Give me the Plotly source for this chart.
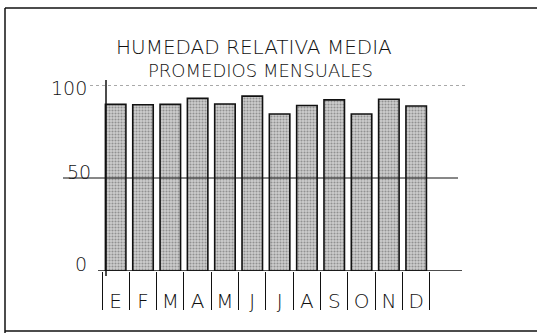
import plotly.graph_objects as go

# ── datos ──
meses = ["E", "F", "M", "A", "M", "J", "J", "A", "S", "O", "N", "D"]
humedad = [89.6, 89.4, 89.6, 92.8, 89.8, 94.0, 84.4, 89.0, 92.0, 84.4, 92.3, 88.7]
y_ticks = [0, 50, 100]

FONT = "DejaVu Sans"
INK = "#111111"

# geometría del área de trazado (px)
L, R, T, B = 102, 464, 85, 271
W, H = R - L, B - T


def px(x):
    return (x - L) / W


def py(y):
    return (B - y) / H


fig = go.Figure()
fig.add_trace(go.Bar(
    x=list(range(len(meses))),
    y=humedad,
    width=0.75,
    marker=dict(
        color="#bdbdbd",
        line=dict(color=INK, width=1.6),
        pattern=dict(shape=".", fgcolor="#555555", bgcolor="#cdcdcd",
                     size=3, solidity=0.4),
    ),
    hoverinfo="skip",
))

shapes = [
    # marco
    dict(type="line", xref="paper", yref="paper", x0=px(5), x1=px(537), y0=py(8), y1=py(8),
         line=dict(color=INK, width=1.5)),
    dict(type="line", xref="paper", yref="paper", x0=px(5), x1=px(5), y0=py(8), y1=py(333),
         line=dict(color=INK, width=1.5)),
    dict(type="line", xref="paper", yref="paper", x0=px(5), x1=px(537), y0=py(331), y1=py(331),
         line=dict(color=INK, width=1.5)),
    # eje vertical
    dict(type="line", xref="paper", yref="paper", x0=px(106), x1=px(106), y0=py(80), y1=py(276),
         line=dict(color=INK, width=1.5), layer="above"),
    # líneas guía
    dict(type="line", xref="paper", yref="y", x0=px(90), x1=px(465), y0=100, y1=100,
         line=dict(color="#555555", width=1, dash="dot"), layer="above"),
    dict(type="line", xref="paper", yref="y", x0=px(63), x1=px(458), y0=50, y1=50,
         line=dict(color=INK, width=1), layer="above"),
    dict(type="line", xref="paper", yref="y", x0=px(98), x1=px(462), y0=0, y1=0,
         line=dict(color=INK, width=1.5), layer="above"),
]

annotations = [
    dict(text="HUMEDAD RELATIVA MEDIA", xref="paper", yref="paper",
         x=px(254), y=py(47), xanchor="center", yanchor="middle", showarrow=False,
         font=dict(family=FONT, size=20, color=INK, weight=200)),
    dict(text="PROMEDIOS MENSUALES", xref="paper", yref="paper",
         x=px(260), y=py(70), xanchor="center", yanchor="middle", showarrow=False,
         font=dict(family=FONT, size=18, color=INK, weight=200)),
]
# etiquetas del eje Y, dibujadas a mano sobre las líneas
for v, dx, dy in zip(y_ticks, [89, 93, 89], [7, 6, -3]):
    annotations.append(dict(
        text=str(v), xref="paper", yref="y", x=px(dx), y=v, yshift=dy,
        xanchor="right", yanchor="middle", showarrow=False,
        font=dict(family=FONT, size=19, color=INK, weight=200),
    ))

fig.update_layout(
    width=537, height=333,
    margin=dict(l=L, r=537 - R, t=T, b=333 - B),
    paper_bgcolor="white",
    plot_bgcolor="white",
    showlegend=False,
    shapes=shapes,
    annotations=annotations,
)

fig.update_xaxes(
    type="category",
    range=[-0.5, 12.75],
    tickvals=list(range(len(meses))),
    ticktext=meses,
    tickson="boundaries",
    ticks="outside",
    ticklen=38,
    tickwidth=1,
    tickcolor=INK,
    showgrid=False,
    zeroline=False,
    showline=False,
    ticklabelstandoff=16,
    tickfont=dict(family=FONT, size=20, color=INK, weight=200),
)

fig.update_yaxes(
    range=[0, 100],
    showgrid=False,
    zeroline=False,
    showline=False,
    showticklabels=False,
    ticks="",
)

fig.write_html("out.html", post_script="document.body.style.margin='0';",
               config={"displayModeBar": False})
